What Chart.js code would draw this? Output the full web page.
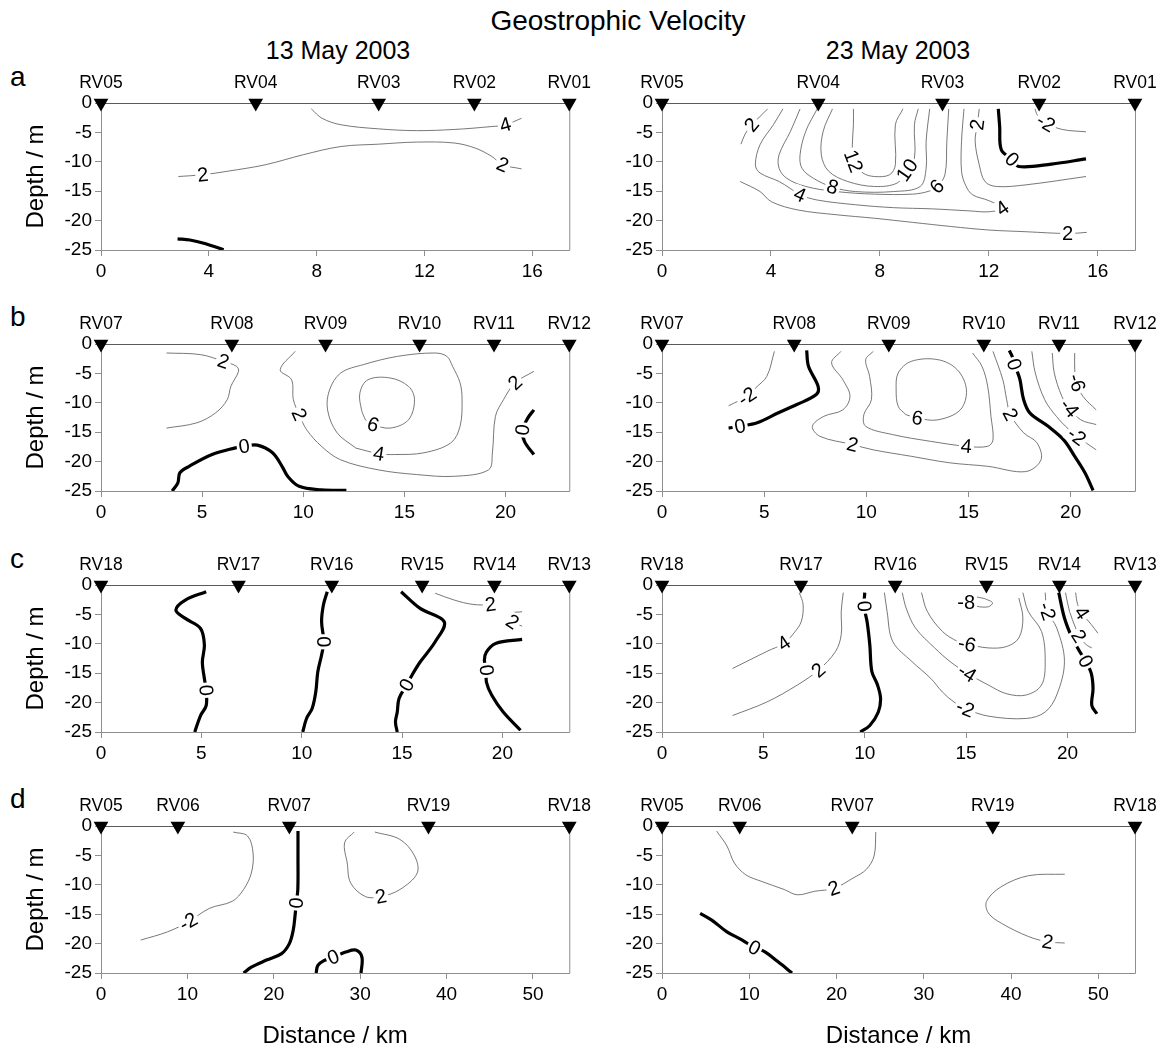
<!DOCTYPE html>
<html><head><meta charset="utf-8">
<script src="https://cdn.jsdelivr.net/npm/chart.js@4.4.1/dist/chart.umd.min.js"></script>
<style>
html,body{margin:0;padding:0;background:#fff;}
body{width:1167px;height:1051px;position:relative;overflow:hidden;font-family:"Liberation Sans",Arial,Helvetica,sans-serif;color:#000;}
canvas{position:absolute;}
.t{position:absolute;white-space:nowrap;line-height:1;transform:translate(-50%,-50%);}
.l{position:absolute;white-space:nowrap;line-height:1;font-size:28px;}
</style></head><body>
<div class="t" style="left:618px;top:21px;font-size:28px">Geostrophic Velocity</div>
<div class="t" style="left:338px;top:50px;font-size:25px">13 May 2003</div>
<div class="t" style="left:898px;top:50px;font-size:25px">23 May 2003</div>
<div class="l" style="left:10px;top:63px">a</div>
<div class="l" style="left:10px;top:303px">b</div>
<div class="l" style="left:10px;top:545px">c</div>
<div class="l" style="left:10px;top:785px">d</div>
<canvas id="a13" width="600" height="240" style="left:0;top:63px;width:600px;height:240px"></canvas>
<canvas id="a23" width="567" height="240" style="left:600px;top:63px;width:567px;height:240px"></canvas>
<canvas id="b13" width="600" height="240" style="left:0;top:304px;width:600px;height:240px"></canvas>
<canvas id="b23" width="567" height="240" style="left:600px;top:304px;width:567px;height:240px"></canvas>
<canvas id="c13" width="600" height="240" style="left:0;top:545px;width:600px;height:240px"></canvas>
<canvas id="c23" width="567" height="240" style="left:600px;top:545px;width:567px;height:240px"></canvas>
<canvas id="d13" width="600" height="265" style="left:0;top:786px;width:600px;height:265px"></canvas>
<canvas id="d23" width="567" height="265" style="left:600px;top:786px;width:567px;height:265px"></canvas>
<script>
// ---------- stations & ticks ----------
const stationsA = ['RV05','RV04','RV03','RV02','RV01'];
const stationKmA = [0, 5.74, 10.3, 13.85, 17.37];
const stationsB = ['RV07','RV08','RV09','RV10','RV11','RV12'];
const stationKmB = [0, 6.47, 11.1, 15.75, 19.43, 23.15];
const stationsC = ['RV18','RV17','RV16','RV15','RV14','RV13'];
const stationKmC = [0, 6.85, 11.5, 16.0, 19.6, 23.33];
const stationsD = ['RV05','RV06','RV07','RV19','RV18'];
const stationKmD = [0, 8.9, 21.8, 37.9, 54.2];
const xTicksA = [0, 4, 8, 12, 16];
const xTicksB = [0, 5, 10, 15, 20];
const xTicksC = [0, 5, 10, 15, 20];
const xTicksD = [0, 10, 20, 30, 40, 50];
const depthTicks = [0, -5, -10, -15, -20, -25];

// ---------- panel a, 13 May ----------
const a13_p4 = [[7.8,-1.0],[8.2,-2.6],[8.9,-3.7],[10.3,-4.4],[11.7,-4.7],[13.1,-4.5],[14.5,-4.0],[15.0,-3.7],[15.6,-2.6]];
const a13_p2 = [[2.87,-12.5],[3.78,-12.2],[4.7,-11.6],[6.1,-10.5],[7.5,-8.8],[8.9,-7.4],[10.3,-7.0],[11.7,-6.65],[13.1,-6.8],[13.9,-7.7],[14.5,-9.1],[14.9,-10.5],[15.6,-11.2]];
const a13_z0 = [[2.84,-23.1],[3.3,-23.3],[3.85,-23.9],[4.55,-24.95]];
// ---------- panel a, 23 May ----------
const a23_p2a = [[3.88,-1.0],[3.6,-2.3],[3.29,-3.7],[3.05,-5.3],[2.9,-7.0]];
const a23_p2b = [[2.87,-13.35],[3.6,-15.06],[4.02,-16.8],[5.0,-18.2],[6.4,-19.0],[7.8,-19.6],[9.2,-20.3],[10.6,-21.0],[12.0,-21.6],[13.4,-21.9],[14.9,-22.2],[15.6,-22.0]];
const a23_p4 = [[4.44,-1.0],[4.09,-3.7],[3.6,-7.1],[3.43,-10.5],[3.6,-11.9],[4.3,-13.35],[4.7,-14.5],[5.07,-15.6],[5.7,-16.5],[7.1,-17.3],[8.5,-17.8],[9.9,-18.0],[11.3,-18.35],[12.0,-18.5],[12.5,-17.9],[12.0,-16.6],[11.4,-15.6],[11.15,-14.0],[11.0,-11.6],[11.0,-6.5],[11.09,-1.0]];
const a23_p6 = [[5.07,-1.0],[4.72,-4.8],[4.3,-8.8],[4.3,-11.1],[4.58,-12.8],[5.28,-14.2],[6.4,-15.06],[7.8,-15.5],[9.2,-15.5],[9.8,-15.0],[10.1,-14.2],[10.39,-12.2],[10.46,-6.5],[10.53,-1.0]];
const a23_p8 = [[5.7,-1.0],[5.28,-4.8],[5.07,-8.8],[5.14,-11.1],[5.56,-12.8],[6.26,-14.3],[7.1,-15.06],[8.5,-15.06],[9.48,-14.2],[9.7,-11.1],[9.7,-6.5],[9.83,-1.0]];
const a23_p10 = [[6.26,-1.0],[5.92,-4.8],[5.85,-8.8],[6.12,-11.6],[6.82,-13.35],[7.8,-14.2],[8.64,-13.6],[9.0,-11.4],[9.27,-9.4],[9.27,-3.7],[9.41,-1.0]];
const a23_p12 = [[7.03,-1.0],[7.03,-3.7],[6.99,-7.1],[7.03,-9.9],[7.38,-11.9],[7.8,-12.5],[8.36,-12.2],[8.57,-10.5],[8.57,-3.7],[8.85,-1.0]];
const a23_p2c = [[11.65,-1.0],[11.58,-3.7],[11.5,-6.5],[11.65,-10.5],[11.86,-13.35],[12.28,-14.2],[13.4,-13.9],[15.57,-12.5]];
const a23_z0 = [[12.35,-1.0],[12.4,-4.0],[12.46,-7.95],[12.85,-9.6],[13.1,-10.8],[14.3,-10.4],[15.57,-9.5]];
const a23_n2 = [[13.7,-1.0],[13.78,-2.0],[14.1,-3.4],[14.7,-4.5],[15.57,-4.9]];
// ---------- panel b, 13 May ----------
const b13_p2a = [[3.24,-1.53],[4.93,-1.81],[6.05,-2.95],[6.7,-3.8],[6.8,-4.65],[6.42,-7.2],[6.24,-9.47],[5.67,-11.7],[4.74,-13.4],[3.24,-14.3]];
const b13_p2b = [[9.6,-1.25],[8.86,-4.37],[9.42,-6.07],[9.51,-9.47],[9.8,-12.0],[10.17,-14.6],[10.9,-17.4],[11.85,-19.7],[13.7,-21.4],[15.6,-22.2],[17.47,-22.5],[19.16,-21.4],[19.35,-18.5],[19.5,-12.3],[19.9,-9.47],[20.47,-6.6],[21.4,-4.65]];
const b13_p4 = [[12.6,-17.7],[11.67,-15.1],[11.2,-11.2],[11.3,-7.8],[11.85,-4.93],[12.98,-3.5],[14.66,-2.1],[16.5,-1.53],[17.1,-2.1],[17.38,-3.8],[17.75,-6.6],[17.85,-9.47],[17.75,-14.0],[17.3,-16.8],[15.97,-18.5],[14.5,-18.8],[13.73,-18.65],[12.6,-17.7]];
const b13_p6 = [[13.07,-12.9],[13.45,-13.7],[14.3,-14.3],[15.2,-12.9],[15.5,-9.47],[15.2,-7.2],[14.3,-5.78],[13.2,-6.07],[12.8,-8.3],[12.88,-11.2],[13.07,-12.9]];
const b13_z0a = [[3.52,-25],[3.8,-23.6],[3.9,-21.9],[4.36,-20.8],[5.49,-18.8],[6.6,-17.7],[7.08,-17.4],[7.73,-17.2],[8.48,-18.5],[8.95,-20.8],[9.23,-22.5],[9.79,-24.2],[10.9,-24.8],[12.13,-24.9]];
const b13_z0b = [[21.4,-11.2],[21.1,-12.6],[20.84,-14.6],[20.94,-16.6],[21.4,-18.8]];
// ---------- panel b, 23 May ----------
const b23_n2a = [[5.5,-1.25],[5.13,-5.5],[4.57,-7.5],[4.16,-8.9],[3.26,-10.5]];
const b23_z0a = [[7.08,-1.08],[7.17,-3.8],[7.64,-7.2],[7.55,-8.6],[6.6,-10.3],[5.7,-11.7],[4.66,-13.4],[3.82,-14.0],[3.26,-14.3]];
const b23_p2 = [[8.76,-1.25],[8.3,-3.2],[8.85,-6.07],[9.2,-8.9],[8.85,-11.2],[7.92,-12.3],[7.36,-14.0],[7.73,-15.7],[9.32,-17.1],[10.34,-18.0],[12.2,-19.1],[14.07,-20.2],[15.94,-20.8],[17.8,-21.7],[18.55,-19.7],[18.35,-16.8],[17.7,-15.1],[17.05,-12.0],[16.87,-9.47],[16.68,-6.07],[16.2,-1.25]];
const b23_p4 = [[10.34,-1.25],[9.97,-2.66],[10.16,-5.5],[10.25,-9.47],[9.88,-12.0],[9.97,-14.0],[11.28,-15.4],[13.14,-16.55],[14.9,-17.4],[15.94,-17.4],[16.2,-16.3],[16.1,-12.3],[15.94,-7.2],[15.66,-3.8],[15.2,-1.53]];
const b23_p6 = [[11.93,-12.0],[12.49,-12.6],[13.5,-12.9],[14.6,-11.2],[14.9,-7.8],[14.45,-4.37],[13.5,-2.66],[12.2,-2.95],[11.56,-4.93],[11.46,-7.8],[11.56,-10.6],[11.93,-12.0]];
const b23_z0b = [[17.0,-1.1],[17.15,-2.2],[17.24,-3.5],[17.4,-4.8],[17.52,-6.07],[17.7,-9.47],[18.0,-11.7],[18.9,-14.0],[19.66,-16.3],[20.2,-19.1],[20.7,-21.9],[21.1,-24.9]];
const b23_n2b = [[18.1,-1.25],[18.27,-4.93],[18.73,-9.47],[19.3,-12.3],[19.9,-14.5],[20.3,-15.7],[21.25,-18.0]];
const b23_n4 = [[19.1,-1.53],[19.2,-4.93],[19.57,-8.9],[19.94,-10.9],[20.5,-12.9],[21.25,-13.7]];
const b23_n6 = [[20.2,-1.53],[20.2,-4.37],[20.3,-6.6],[20.6,-8.9],[21.25,-11.2]];
// ---------- panel c, 13 May ----------
const c13_z0a = [[5.24,-1.14],[4.2,-2.56],[3.73,-4.26],[4.2,-5.68],[4.96,-7.4],[5.15,-10.2],[5.05,-13.1],[5.15,-15.9],[5.24,-17.9],[5.24,-20.5],[4.96,-22.2],[4.67,-25]];
const c13_z0b = [[11.27,-1.14],[11.08,-3.4],[10.99,-6.25],[11.1,-9.66],[10.99,-11.9],[10.8,-14.8],[10.7,-18.2],[10.52,-21.0],[10.24,-22.7],[10.05,-25]];
const c13_z0c = [[14.95,-1.14],[15.9,-3.98],[17.1,-6.25],[16.65,-9.66],[15.9,-13.1],[15.5,-15.3],[15.23,-17.0],[14.85,-19.3],[14.76,-21.6],[14.67,-23.3],[14.76,-25]];
const c13_z0d = [[20.98,-9.26],[19.66,-9.94],[19.2,-11.4],[19.1,-12.8],[19.2,-14.5],[19.2,-16.5],[19.47,-18.75],[20.04,-21.6],[20.9,-24.7]];
const c13_p2a = [[16.65,-1.4],[17.6,-2.56],[18.53,-3.3],[19.4,-3.3],[19.66,-2.84]];
const c13_p2b = [[20.98,-4.55],[20.4,-4.8],[20.3,-5.5],[20.5,-6.25],[20.98,-7.0]];
// ---------- panel c, 23 May ----------
const c23_p4 = [[6.77,-1.3],[6.96,-3.3],[6.87,-6.2],[6.5,-8.2],[6.02,-9.9],[5.17,-11.3],[3.48,-14.2]];
const c23_p2 = [[8.94,-1.3],[8.84,-4.46],[8.84,-8.46],[8.56,-11.3],[7.71,-14.5],[6.68,-17.0],[5.17,-19.9],[3.48,-22.2]];
const c23_z0a = [[10.0,-1.3],[9.97,-3.6],[10.12,-6.34],[10.25,-10.2],[10.35,-14.7],[10.63,-17.0],[10.78,-19.3],[10.67,-21.6],[10.25,-23.9],[9.78,-25]];
const c23_n2 = [[10.97,-1.3],[11.1,-4.46],[11.38,-9.6],[12.32,-13.0],[13.26,-15.9],[13.83,-18.2],[14.4,-19.9],[14.96,-21.0],[16.09,-22.3],[17.97,-22.7],[18.9,-21.6],[19.47,-18.7],[19.85,-13.0],[19.47,-7.3],[19.0,-4.46],[18.9,-1.3]];
const c23_n4 = [[11.85,-1.3],[12.04,-3.9],[12.5,-7.3],[13.45,-10.7],[14.2,-13.0],[15.05,-15.0],[16.09,-17.0],[17.0,-18.5],[17.97,-18.7],[18.72,-17.0],[18.9,-13.0],[18.72,-7.9],[18.06,-4.46],[17.8,-1.3]];
const c23_n6 = [[12.8,-1.3],[13.08,-4.46],[13.83,-7.9],[14.58,-9.6],[15.05,-10.06],[16.09,-10.7],[17.0,-10.46],[17.6,-9.0],[17.8,-5.6],[17.6,-2.2]];
const c23_n8 = [[15.9,-2.3],[15.3,-1.95],[14.9,-2.2],[15.0,-2.9],[15.5,-3.6],[16.1,-3.7],[16.3,-3.0],[15.9,-2.3]];
const c23_z0b = [[19.57,-1.3],[19.85,-5.6],[20.23,-9.0],[20.6,-11.3],[20.9,-13.0],[21.17,-15.0],[21.26,-17.6],[21.2,-20.5],[21.45,-21.9]];
const c23_p2r = [[19.9,-1.3],[20.1,-4.46],[20.4,-7.3],[20.56,-8.7],[20.94,-10.2],[21.2,-10.7]];
const c23_p4r = [[20.4,-1.3],[20.5,-3.3],[20.7,-4.74],[21.17,-6.7],[21.5,-8.2]];
// ---------- panel d, 13 May ----------
const d13_n2 = [[15.3,-1.03],[16.96,-1.7],[17.6,-4.57],[17.4,-8.0],[16.5,-10.8],[15.2,-12.8],[12.56,-14.0],[10.1,-16.3],[7.7,-18.0],[4.6,-19.4]];
const d13_p2 = [[31.7,-1.03],[34.6,-2.28],[36.3,-5.1],[36.6,-8.0],[34.6,-10.8],[32.4,-12.0],[30.6,-12.0],[28.9,-9.7],[28.5,-6.3],[28.2,-2.85],[29.3,-1.03]];
const d13_z0a = [[22.8,-0.86],[22.8,-5.1],[22.78,-10.8],[22.6,-13.1],[22.47,-15.1],[22.25,-17.7],[21.8,-20.0],[20.9,-21.7],[19.16,-22.8],[17.4,-24.0],[16.5,-25]];
const d13_z0b = [[24.9,-25],[25.1,-23.7],[25.8,-22.9],[26.9,-22.3],[28.4,-21.4],[29.5,-21.1],[30.2,-22.3],[30.1,-25]];
// ---------- panel d, 23 May ----------
const d23_p2a = [[6.26,-0.86],[7.44,-3.4],[8.3,-6.3],[9.6,-8.3],[11.37,-9.4],[14.0,-10.8],[15.5,-11.7],[17.5,-11.1],[19.7,-10.6],[21.9,-8.85],[23.4,-7.4],[24.3,-5.1],[24.5,-1.03]];
const d23_p2b = [[46.15,-8.2],[42.0,-8.45],[38.9,-10.3],[37.2,-12.8],[37.4,-14.8],[38.9,-16.55],[42.0,-18.8],[44.2,-19.7],[46.15,-19.9]];
const d23_z0 = [[4.37,-14.84],[5.7,-16.0],[7.44,-18.0],[9.2,-19.4],[10.6,-20.7],[11.8,-21.4],[13.3,-23.1],[14.9,-25]];

// contour lists: level, points, label positions [pointIndex, text?, angleDeg?]
const contoursA13 = [
  {level:4, pts:a13_p4, labels:[[7]]},
  {level:2, pts:a13_p2, labels:[[1],[11]]},
  {level:0, pts:a13_z0, labels:[]}
];
const contoursA23 = [
  {level:2, pts:a23_p2a, labels:[[2]]},
  {level:2, pts:a23_p2b, labels:[[10]]},
  {level:4, pts:a23_p4, labels:[[7],[14,null,-35]]},
  {level:6, pts:a23_p6, labels:[[10]]},
  {level:8, pts:a23_p8, labels:[[5]]},
  {level:10, pts:a23_p10, labels:[[7]]},
  {level:12, pts:a23_p12, labels:[[3]]},
  {level:2, pts:a23_p2c, labels:[[1]]},
  {level:0, pts:a23_z0, labels:[[3]]},
  {level:-2, pts:a23_n2, labels:[[2]]}
];
const contoursB13 = [
  {level:2, pts:b13_p2a, labels:[[2]]},
  {level:2, pts:b13_p2b, labels:[[4],[15]]},
  {level:4, pts:b13_p4, labels:[[16]]},
  {level:6, pts:b13_p6, labels:[[1]]},
  {level:0, pts:b13_z0a, labels:[[6]]},
  {level:0, pts:b13_z0b, labels:[[2]]}
];
const contoursB23 = [
  {level:-2, pts:b23_n2a, labels:[[3]]},
  {level:0, pts:b23_z0a, labels:[[7]]},
  {level:2, pts:b23_p2, labels:[[8],[17]]},
  {level:4, pts:b23_p4, labels:[[8]]},
  {level:6, pts:b23_p6, labels:[[1]]},
  {level:0, pts:b23_z0b, labels:[[2]]},
  {level:-2, pts:b23_n2b, labels:[[5]]},
  {level:-4, pts:b23_n4, labels:[[3]]},
  {level:-6, pts:b23_n6, labels:[[2]]}
];
const contoursC13 = [
  {level:0, pts:c13_z0a, labels:[[8]]},
  {level:0, pts:c13_z0b, labels:[[3]]},
  {level:0, pts:c13_z0c, labels:[[6]]},
  {level:0, pts:c13_z0d, labels:[[4]]},
  {level:2, pts:c13_p2a, labels:[[3]]},
  {level:2, pts:c13_p2b, labels:[[3]]}
];
const contoursC23 = [
  {level:4, pts:c23_p4, labels:[[4]]},
  {level:2, pts:c23_p2, labels:[[4]]},
  {level:0, pts:c23_z0a, labels:[[1]]},
  {level:-2, pts:c23_n2, labels:[[7],[14]]},
  {level:-4, pts:c23_n4, labels:[[5]]},
  {level:-6, pts:c23_n6, labels:[[4]]},
  {level:-8, pts:c23_n8, labels:[[3,null,0]]},
  {level:0, pts:c23_z0b, labels:[[4]]},
  {level:2, pts:c23_p2r, labels:[[3]]},
  {level:4, pts:c23_p4r, labels:[[2]]}
];
const contoursD13 = [
  {level:-2, pts:d13_n2, labels:[[7]]},
  {level:2, pts:d13_p2, labels:[[5]]},
  {level:0, pts:d13_z0a, labels:[[3]]},
  {level:0, pts:d13_z0b, labels:[[3]]}
];
const contoursD23 = [
  {level:2, pts:d23_p2a, labels:[[8]]},
  {level:2, pts:d23_p2b, labels:[[7]]},
  {level:0, pts:d23_z0, labels:[[4]]}
];

// ---------- drawing ----------
const FONT = '"Liberation Sans", Arial, Helvetica, sans-serif';
Chart.defaults.font.family = FONT;
Chart.defaults.color = '#000';
const AXIS = '#8e8e8e', TOPLINE = '#5a5a5a';

const boxPlugin = {
  id: 'box',
  beforeDatasetsDraw(chart) {
    const {ctx, chartArea: {left, right, top, bottom}} = chart;
    ctx.save();
    ctx.lineWidth = 1;
    ctx.strokeStyle = AXIS;
    ctx.beginPath();
    ctx.moveTo(left + 0.5, top);
    ctx.lineTo(left + 0.5, bottom + 0.5);
    ctx.lineTo(right + 0.5, bottom + 0.5);
    ctx.lineTo(right + 0.5, top);
    ctx.stroke();
    ctx.strokeStyle = TOPLINE;
    ctx.beginPath();
    ctx.moveTo(left, top + 0.5);
    ctx.lineTo(right + 1, top + 0.5);
    ctx.stroke();
    ctx.restore();
  }
};

const labelPlugin = {
  id: 'clabels',
  afterDatasetsDraw(chart) {
    const {ctx, chartArea: ca} = chart;
    ctx.save();
    ctx.beginPath();
    ctx.rect(ca.left + 1, ca.top + 1, ca.right - ca.left - 1, ca.bottom - ca.top - 1);
    ctx.clip();
    chart.data.datasets.forEach((ds, di) => {
      if (!ds.clabels) return;
      const pts = chart.getDatasetMeta(di).data;
      ds.clabels.forEach(lb => {
        const i = lb[0], text = lb[1], ang = lb[2];
        const p = pts[i];
        const a = pts[Math.max(0, i - 1)], b = pts[Math.min(pts.length - 1, i + 1)];
        let th = (ang !== undefined && ang !== null) ? ang * Math.PI / 180 : Math.atan2(b.y - a.y, b.x - a.x);
        if (th > Math.PI / 2) th -= Math.PI;
        if (th < -Math.PI / 2) th += Math.PI;
        ctx.save();
        ctx.translate(p.x, p.y);
        ctx.rotate(th);
        ctx.font = '20px ' + FONT;
        const w = ctx.measureText(text).width;
        ctx.fillStyle = '#fff';
        ctx.fillRect(-w / 2 - 2, -9, w + 4, 18);
        ctx.fillStyle = '#000';
        ctx.textAlign = 'center';
        ctx.textBaseline = 'middle';
        ctx.fillText(text, 0, 1);
        ctx.restore();
      });
    });
    ctx.restore();
  }
};

function build(id, cfg) {
  const datasets = cfg.contours.map(c => ({
    data: c.pts.map(p => ({x: p[0], y: p[1]})),
    showLine: true, pointRadius: 0, pointHoverRadius: 0, fill: false,
    borderColor: c.level === 0 ? '#000' : '#555',
    borderWidth: c.level === 0 ? 3.2 : 0.8,
    tension: 0.35,
    clabels: c.labels.map(l => [l[0], (l[1] !== undefined && l[1] !== null) ? l[1] : String(c.level), l[2]])
  }));
  datasets.push({
    data: cfg.km.map(k => ({x: k, y: 0})),
    showLine: false, pointStyle: 'triangle', rotation: 180, pointRadius: 8.5, pointHoverRadius: 8.5,
    backgroundColor: '#000', borderColor: '#000', borderWidth: 0, clip: false, order: -1
  });
  new Chart(document.getElementById(id), {
    type: 'scatter',
    data: {datasets},
    options: {
      responsive: false, animation: false, devicePixelRatio: 1, events: [],
      layout: {padding: {left: 0, right: cfg.padR, top: 0, bottom: 0}},
      plugins: {legend: {display: false}, tooltip: {enabled: false}},
      scales: {
        x: {
          type: 'linear', position: 'bottom', min: 0, max: cfg.xMax,
          afterBuildTicks: s => { s.ticks = cfg.xTicks.map(v => ({value: v})); },
          afterFit: s => { s.height = cfg.xH; },
          grid: {drawOnChartArea: false, drawTicks: true, tickLength: 6, color: AXIS},
          border: {display: false},
          ticks: {font: {size: 19}, padding: 4, color: '#000', maxRotation: 0, autoSkip: false, callback: v => String(v)},
          title: {display: cfg.xTitle, text: 'Distance / km', font: {size: 24}, color: '#000', padding: {top: 0, bottom: 0}}
        },
        xTop: {
          type: 'linear', axis: 'x', position: 'top', min: 0, max: cfg.xMax,
          afterBuildTicks: s => { s.ticks = cfg.km.map(v => ({value: v})); },
          afterFit: s => { s.height = 40; },
          grid: {display: false, drawTicks: false},
          border: {display: false},
          ticks: {font: {size: 17.5}, padding: 9, color: '#000', maxRotation: 0, autoSkip: false, callback: (v, i) => cfg.names[i]}
        },
        y: {
          type: 'linear', position: 'left', min: -25, max: 0,
          afterBuildTicks: s => { s.ticks = depthTicks.map(v => ({value: v})); },
          afterFit: s => { s.width = cfg.yW; },
          grid: {drawOnChartArea: false, drawTicks: true, tickLength: 6, color: AXIS},
          border: {display: false},
          ticks: {font: {size: 19}, padding: 3, color: '#000', autoSkip: false, callback: v => String(v)},
          title: {display: cfg.yTitle, text: 'Depth / m', font: {size: 24}, color: '#000', padding: {top: 22, bottom: 0}}
        }
      }
    },
    plugins: [boxPlugin, labelPlugin]
  });
}

const L = {yTitle: true, yW: 101, padR: 25};
const R = {yTitle: false, yW: 62, padR: 32};
build('a13', {...L, xMax: 17.37, xTicks: xTicksA, names: stationsA, km: stationKmA, xH: 53, xTitle: false, contours: contoursA13});
build('a23', {...R, xMax: 17.37, xTicks: xTicksA, names: stationsA, km: stationKmA, xH: 53, xTitle: false, contours: contoursA23});
build('b13', {...L, xMax: 23.15, xTicks: xTicksB, names: stationsB, km: stationKmB, xH: 53, xTitle: false, contours: contoursB13});
build('b23', {...R, xMax: 23.15, xTicks: xTicksB, names: stationsB, km: stationKmB, xH: 53, xTitle: false, contours: contoursB23});
build('c13', {...L, xMax: 23.33, xTicks: xTicksC, names: stationsC, km: stationKmC, xH: 53, xTitle: false, contours: contoursC13});
build('c23', {...R, xMax: 23.33, xTicks: xTicksC, names: stationsC, km: stationKmC, xH: 53, xTitle: false, contours: contoursC23});
build('d13', {...L, xMax: 54.2, xTicks: xTicksD, names: stationsD, km: stationKmD, xH: 78, xTitle: true, contours: contoursD13});
build('d23', {...R, xMax: 54.2, xTicks: xTicksD, names: stationsD, km: stationKmD, xH: 78, xTitle: true, contours: contoursD23});
</script>
</body></html>
